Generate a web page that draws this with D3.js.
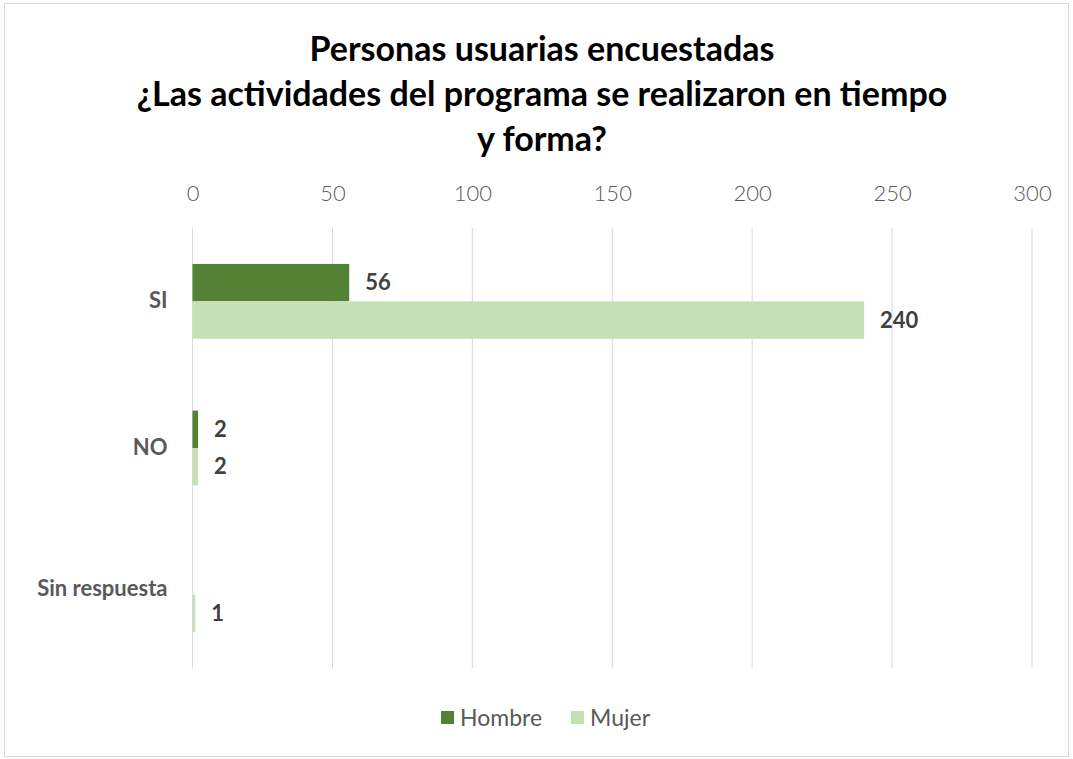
<!DOCTYPE html>
<html>
<head>
<meta charset="utf-8">
<script src="https://cdn.jsdelivr.net/npm/d3@7"></script>
<style>
  body { margin: 0; background: #fff; }
  svg { font-family: Lato, "Open Sans", sans-serif; }
</style>
</head>
<body>
<svg id="chart" width="1073" height="759"></svg>
<script>
const categories = ["SI", "NO", "Sin respuesta"];
const seriesNames = ["Hombre", "Mujer"];
const hombre = [56, 2, null];
const mujer = [240, 2, 1];
const xTicks = [0, 50, 100, 150, 200, 250, 300];
const titleLines = ["Personas usuarias encuestadas", "¿Las actividades del programa se realizaron en tiempo", "y forma?"];
const colors = ["#548235", "#c5e0b4"];

const svg = d3.select("#chart");

// chart frame
svg.append("rect")
  .attr("x", 4.5).attr("y", 3.5)
  .attr("width", 1064).attr("height", 753)
  .attr("fill", "#fff")
  .attr("stroke", "#d9d9d9");

svg.append("g")
  .selectAll("text")
  .data(titleLines)
  .enter().append("text")
  .attr("x", 542)
  .attr("y", (d, i) => 61 + i * 45)
  .attr("text-anchor", "middle")
  .attr("font-size", 34)
  .attr("font-weight", "bold")
  .attr("fill", "#000")
  .text(d => d);

const plotLeft = 192.5, plotRight = 1032, plotTop = 228, plotBottom = 668;

const x = d3.scaleLinear().domain([0, 300]).range([plotLeft, plotRight]);
const y = d3.scaleBand().domain(categories).range([plotTop, plotBottom]).paddingInner(0.49).paddingOuter(0.245);
const ySub = d3.scaleBand().domain(seriesNames).range([0, y.bandwidth()]);

// gridlines
svg.append("g")
  .selectAll("line")
  .data(xTicks)
  .enter().append("line")
  .attr("x1", d => x(d)).attr("x2", d => x(d))
  .attr("y1", plotTop).attr("y2", plotBottom)
  .attr("stroke", "#d9d9d9")
  .attr("stroke-width", 1);

// top axis labels
const xAxis = svg.append("g")
  .attr("transform", `translate(0,${plotTop - 47})`)
  .call(d3.axisTop(x).tickValues(xTicks).tickSize(0).tickPadding(0));
xAxis.select(".domain").remove();
xAxis.selectAll("text")
  .attr("font-family", "Lato, sans-serif")
  .attr("font-weight", 300)
  .attr("font-size", 22)
  .attr("fill", "#595959")
  .attr("dy", "0.9em");

// category labels
const yAxis = svg.append("g")
  .attr("transform", `translate(${plotLeft - 25},0)`)
  .call(d3.axisLeft(y).tickSize(0).tickPadding(0));
yAxis.select(".domain").remove();
yAxis.selectAll("text")
  .attr("font-family", "Lato, sans-serif")
  .attr("font-weight", "bold")
  .attr("font-size", 22)
  .attr("fill", "#595959");
yAxis.selectAll(".tick")
  .filter(d => d === "Sin respuesta")
  .select("text")
  .attr("dy", "0.05em");

const rows = [];
categories.forEach((c, i) => {
  rows.push({ cat: c, series: "Hombre", value: hombre[i], color: colors[0] });
  rows.push({ cat: c, series: "Mujer", value: mujer[i], color: colors[1] });
});
const present = rows.filter(d => d.value !== null);

svg.append("g")
  .selectAll("rect")
  .data(present)
  .enter().append("rect")
  .attr("x", x(0))
  .attr("y", d => y(d.cat) + ySub(d.series))
  .attr("width", d => x(d.value) - x(0))
  .attr("height", ySub.bandwidth())
  .attr("fill", d => d.color);

svg.append("g")
  .selectAll("text")
  .data(present)
  .enter().append("text")
  .attr("x", d => x(d.value) + 16)
  .attr("y", d => y(d.cat) + ySub(d.series) + ySub.bandwidth() / 2)
  .attr("dy", "0.35em")
  .attr("font-size", 22)
  .attr("font-weight", "bold")
  .attr("fill", "#404040")
  .text(d => d.value);

// legend
const legend = svg.append("g");
const legendX = [441, 571];
seriesNames.forEach((s, i) => {
  legend.append("rect")
    .attr("x", legendX[i]).attr("y", 711)
    .attr("width", 13).attr("height", 13)
    .attr("fill", colors[i]);
  legend.append("text")
    .attr("x", legendX[i] + 19).attr("y", 718)
    .attr("dy", "0.35em")
    .attr("font-size", 23)
    .attr("fill", "#595959")
    .text(s);
});
</script>
</body>
</html>
